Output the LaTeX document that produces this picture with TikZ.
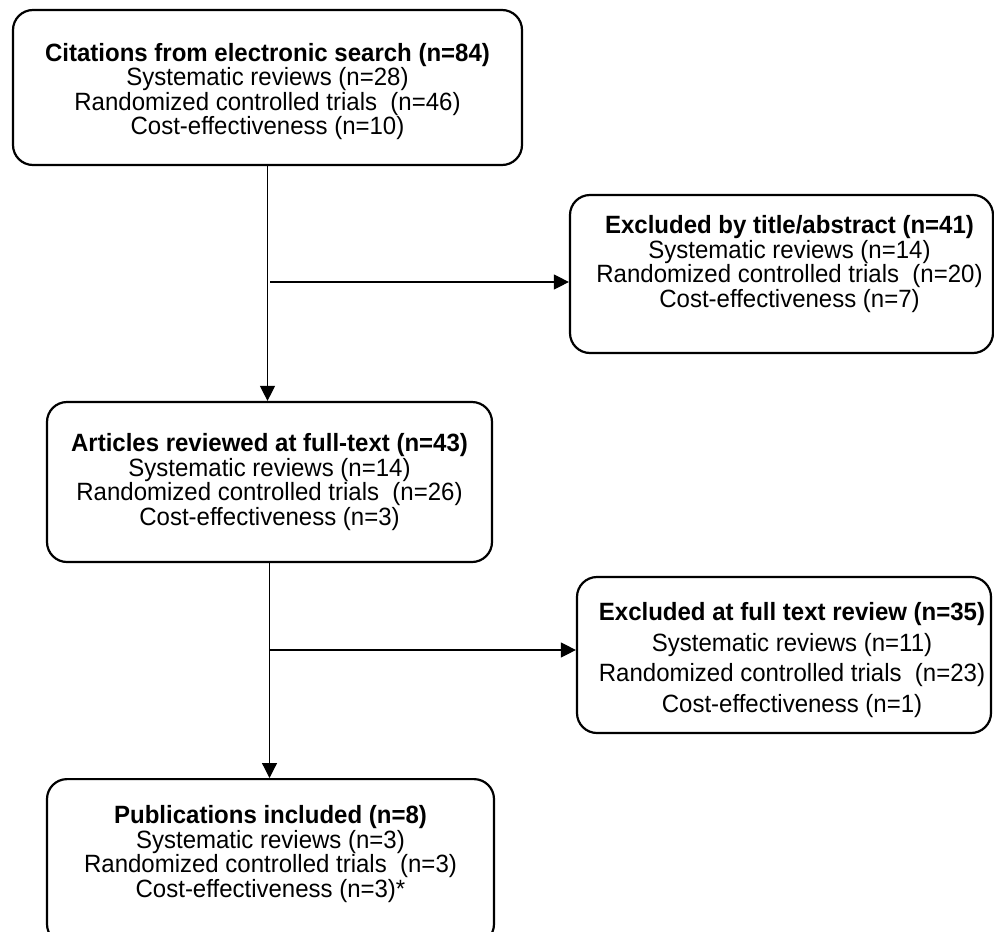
\documentclass[tikz,border=0pt]{standalone}
\usepackage{fontspec}
\setmainfont[FakeStretch=0.96]{Liberation Sans}
\usetikzlibrary{arrows.meta,positioning}

\begin{document}
\begin{tikzpicture}[x=1pt,y=-1pt,font=\fontsize{25}{24.5}\selectfont]

        % Stili dei riquadri e delle frecce
        \tikzset{
            box/.style={draw, line width=2.2pt, rounded corners=20pt, inner sep=0pt},
            testo/.style={align=center, inner sep=0pt},
            freccia/.style={line width=1.2pt, -{Triangle[length=15pt,width=15pt]}}
        }

        % Area visibile (l'ultimo riquadro esce dal bordo)
        \useasboundingbox (0,0) rectangle (994,932);
        \clip (0,0) rectangle (994,932);

        % Riquadri della colonna principale
        \node[box, minimum width=509pt, minimum height=155pt] (cit) at (267.5,87.5) {};
        \node[box, minimum width=445pt, minimum height=160pt] (art) at (269.5,482) {};
        \node[box, minimum width=447pt, minimum height=165pt, anchor=north] (pub) at (270.5,778) {};

        % Riquadri degli esclusi
        \node[box, minimum width=423pt, minimum height=158pt] (exc1) at (781.5,274) {};
        \node[box, minimum width=414pt, minimum height=156pt] (exc2) at (784,655) {};

        % Testi dei riquadri
        \node[testo] (cittxt) at ([yshift=-4pt]cit.center)
            {\textbf{Citations from electronic search (n=84)}\\Systematic reviews (n=28)\\Randomized controlled trials\ \ (n=46)\\Cost-effectiveness (n=10)};
        \node[testo] (arttxt) at (art.center)
            {\textbf{Articles reviewed at full-text (n=43)}\\Systematic reviews (n=14)\\Randomized controlled trials\ \ (n=26)\\Cost-effectiveness (n=3)};
        \node[testo] (pubtxt) at ([yshift=-76pt]pub.north)
            {\textbf{Publications included (n=8)}\\Systematic reviews (n=3)\\Randomized controlled trials\ \ (n=3)\\Cost-effectiveness (n=3)*};
        \node[testo] (exc1txt) at ([xshift=8pt,yshift=10pt]exc1.center)
            {\textbf{Excluded by title/abstract (n=41)}\\Systematic reviews (n=14)\\Randomized controlled trials\ \ (n=20)\\Cost-effectiveness (n=7)};
        \node[testo, font=\fontsize{25}{30.5}\selectfont] (exc2txt) at ([xshift=8pt,yshift=-5pt]exc2.center)
            {\textbf{Excluded at full text review (n=35)}\\Systematic reviews (n=11)\\Randomized controlled trials\ \ (n=23)\\Cost-effectiveness (n=1)};

        % Punti di diramazione
        \coordinate (bivio1) at (270,282);
        \coordinate (bivio2) at (270,650);

        % Frecce
        \draw[freccia] (cit.south) -- (cit.south |- art.north);
        \draw[freccia] (art.south) -- (art.south |- pub.north);
        \draw[freccia] (bivio1) -- (bivio1 -| exc1.west);
        \draw[freccia] (bivio2) -- (bivio2 -| exc2.west);

    \end{tikzpicture}
\end{document}
